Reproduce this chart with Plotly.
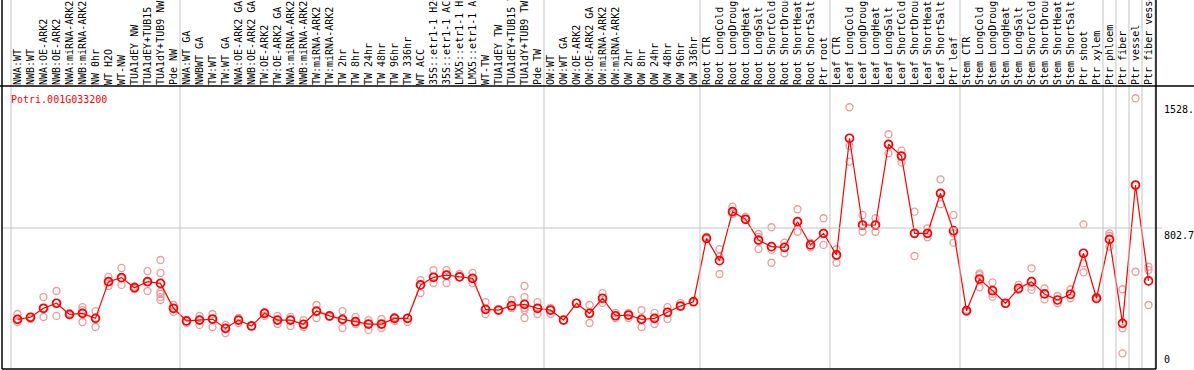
import plotly.graph_objects as go

gene = "Potri.001G033200"

categories = [
    "NWA:WT", "NWB:WT", "NWA:OE-ARK2", "NWB:OE-ARK2", "NWA:miRNA-ARK2", "NWB:miRNA-ARK2",
    "NW 0hr", "WT H2O", "WT-NW", "TUA1dEY NW", "TUA1dEY+TUB15 NW", "TUA1dY+TUB9 NW", "Pde NW",
    "NWA:WT GA", "NWBWT GA", "TW:WT", "TW:WT GA", "NWA:OE-ARK2 GA", "NWB:OE-ARK2 GA",
    "TW:OE-ARK2", "TW:OE-ARK2 GA", "NWA:miRNA-ARK2", "NWB:miRNA-ARK2", "TW:miRNA-ARK2",
    "TW:miRNA-ARK2", "TW 2hr", "TW 8hr", "TW 24hr", "TW 48hr", "TW 96hr", "TW 336hr", "WT ACC",
    "35S::etr1-1 H2O", "35S::etr1-1 ACC", "LMX5::etr1-1 H2O", "LMX5::etr1-1 ACC", "WT-TW",
    "TUA1dEY TW", "TUA1dEY+TUB15 TW", "TUA1dY+TUB9 TW", "Pde TW",
    "OW:WT", "OW:WT GA", "OW:OE-ARK2", "OW:OE-ARK2 GA", "OW:miRNA-ARK2", "OW:miRNA-ARK2",
    "OW 2hr", "OW 8hr", "OW 24hr", "OW 48hr", "OW 96hr", "OW 336hr",
    "Root CTR", "Root LongCold", "Root LongDrought", "Root LongHeat", "Root LongSalt",
    "Root ShortCold", "Root ShortDrought", "Root ShortHeat", "Root ShortSalt", "Ptr root",
    "Leaf CTR", "Leaf LongCold", "Leaf LongDrought", "Leaf LongHeat", "Leaf LongSalt",
    "Leaf ShortCold", "Leaf ShortDrought", "Leaf ShortHeat", "Leaf ShortSalt", "Ptr leaf",
    "Stem CTR", "Stem LongCold", "Stem LongDrought", "Stem LongHeat", "Stem LongSalt",
    "Stem ShortCold", "Stem ShortDrought", "Stem ShortHeat", "Stem ShortSalt", "Ptr shoot",
    "Ptr xylem", "Ptr phloem", "Ptr fiber", "Ptr vessel", "Ptr fiber vessel",
]

mean_values = [
    275, 287, 339, 368, 304, 310, 281, 493, 516, 458, 493, 483, 339,
    266, 271, 277, 223, 271, 237, 310, 271, 271, 247, 323, 295, 275, 262, 248, 248, 281,
    281, 474, 518, 531, 521, 512, 333, 329, 354, 362, 339,
    329, 271, 368, 310, 397, 296, 300, 275, 281, 316, 352, 377,
    743, 614, 897, 853, 733, 695, 691, 839, 705, 772,
    647, 1321, 820, 820, 1286, 1218, 772, 772, 1003, 787,
    325, 508, 441, 368, 454, 493, 422, 387, 420, 657, 397,
    737, 252, 1051, 497,
]

replicates = [
    [306, 277, 260], [289, 277], [404, 341, 289], [439, 370, 295], [300, 310],
    [346, 329, 312, 260], [323, 283, 231], [520, 491, 468], [572, 514, 474], [450, 458, 465],
    [554, 491, 439], [618, 543, 433, 422, 404, 387], [358, 341, 318],
    [266, 254], [295, 271, 243], [306, 277, 231], [243, 225, 196], [283, 271, 254],
    [237, 237], [318, 312, 295], [295, 271, 248], [289, 271, 237], [271, 248, 231],
    [358, 323, 283], [295, 289], [323, 277, 225], [289, 260, 248], [271, 248, 214],
    [277, 248, 225], [289, 283, 266], [283, 260], [502, 474, 427], [560, 520, 485],
    [560, 531, 485], [537, 520], [543, 514, 485], [375, 335, 306], [329],
    [387, 352, 341], [468, 404, 364, 341, 329, 283], [375, 341, 306],
    [341, 329, 306], [271], [370], [358, 312, 254], [427, 398, 370], [312, 295, 283],
    [312, 300, 283], [329, 277, 231], [312, 283, 248], [346, 318, 277], [370, 352], [375],
    [752, 739], [681, 637, 537], [926, 897, 884], [868, 853], [768, 752, 681],
    [807, 676, 602], [718, 657], [911, 839, 781], [718, 691], [859, 772, 705],
    [680, 647, 602], [1500, 1276, 1186], [878, 820, 781], [859, 820, 781],
    [1344, 1286, 1234], [1249, 1219, 1180], [897, 772, 641], [801, 772, 749],
    [1084, 1003, 940], [878, 772, 718],
    [320, 330], [541, 531, 460], [489, 422, 406], [368, 368], [474, 445],
    [570, 464, 445], [454, 391], [410, 368], [449, 397], [824, 599, 547], [406, 391],
    [772, 758, 695], [449, 224, 79], [1552, 1051, 550], [579, 560, 358],
]

group_ends = [0, 13, 41, 53, 63, 73, 84, 85, 86, 87]
grid_value = 802.7
axis_labels = ["1528.", "802.7", "0"]
axis_label_values = [1528, 802.7, 0]

xs = list(range(1, len(categories) + 1))
rx, ry = [], []
for i, reps in zip(xs, replicates):
    for v in reps:
        rx.append(i)
        ry.append(v)

W, H = 1194, 370
ml, mr, mt, mb = 2, 38, 86, 1
pw = W - ml - mr
ph = H - mt - mb
xmin, xmax = -0.1923, 88.577
ymin, ymax = -11.55, 1622.7

def xpaper(v):
    return (v - xmin) / (xmax - xmin)

mono = "DejaVu Sans Mono"
fig = go.Figure()
fig.add_trace(go.Scatter(
    x=rx, y=ry, mode="markers",
    marker=dict(symbol="circle-open", size=7, color="#ee9a9a", line=dict(width=1.3)),
    hoverinfo="skip", cliponaxis=False,
))
fig.add_trace(go.Scatter(
    x=xs, y=mean_values, mode="lines+markers",
    line=dict(color="#ff0000", width=1.2),
    marker=dict(symbol="circle-open", size=8, color="#ff0000", line=dict(width=1.7)),
    cliponaxis=False,
))

shapes = []
ytop = 1 + mt / ph
for b in group_ends + [88]:
    shapes.append(dict(type="line", xref="paper", yref="paper",
                       x0=xpaper(b + 0.5), x1=xpaper(b + 0.5), y0=0, y1=ytop,
                       line=dict(color="#c4c4c4", width=1)))
shapes.append(dict(type="line", xref="paper", yref="y", x0=0, x1=1 + 6 / pw,
                   y0=grid_value, y1=grid_value, line=dict(color="#c4c4c4", width=1)))
# frame
shapes.append(dict(type="line", xref="paper", yref="paper", x0=0, x1=0, y0=0, y1=ytop,
                   line=dict(color="black", width=1.5)))
shapes.append(dict(type="line", xref="paper", yref="paper", x0=1, x1=1, y0=0, y1=ytop,
                   line=dict(color="black", width=1.5)))
shapes.append(dict(type="line", xref="paper", yref="paper", x0=0, x1=1, y0=0, y1=0,
                   line=dict(color="black", width=1.5)))
shapes.append(dict(type="line", xref="paper", yref="paper", x0=-ml / pw, x1=1 + mr / pw,
                   y0=1, y1=1, line=dict(color="black", width=1.5)))

annotations = [dict(text=gene, xref="paper", yref="paper", x=7 / pw, y=1 - 6 / ph,
                    xanchor="left", yanchor="top", showarrow=False,
                    font=dict(family=mono, size=10, color="#ff0000"))]
for lab, val in zip(axis_labels, axis_label_values):
    annotations.append(dict(text=lab, xref="paper", yref="y", x=1 + 6 / pw, y=val,
                            xanchor="left", yanchor="bottom" if val == 0 else "top",
                            showarrow=False, font=dict(family=mono, size=10, color="black")))

fig.update_layout(
    width=W, height=H, margin=dict(l=ml, r=mr, t=mt, b=mb, pad=0),
    plot_bgcolor="white", paper_bgcolor="white", showlegend=False,
    shapes=shapes, annotations=annotations,
    xaxis=dict(range=[xmin, xmax], side="top", tickmode="array", tickvals=xs,
               ticktext=categories, tickangle=-90, showgrid=False, zeroline=False,
               showline=False, ticks="", automargin=False,
               tickfont=dict(family=mono, size=10, color="black")),
    yaxis=dict(range=[ymin, ymax], showgrid=False, zeroline=False, showline=False,
               showticklabels=False, ticks="", automargin=False),
)
fig.write_html("out.html", config={"displayModeBar": False},
               post_script="document.body.style.margin='0';document.body.style.padding='0';")
